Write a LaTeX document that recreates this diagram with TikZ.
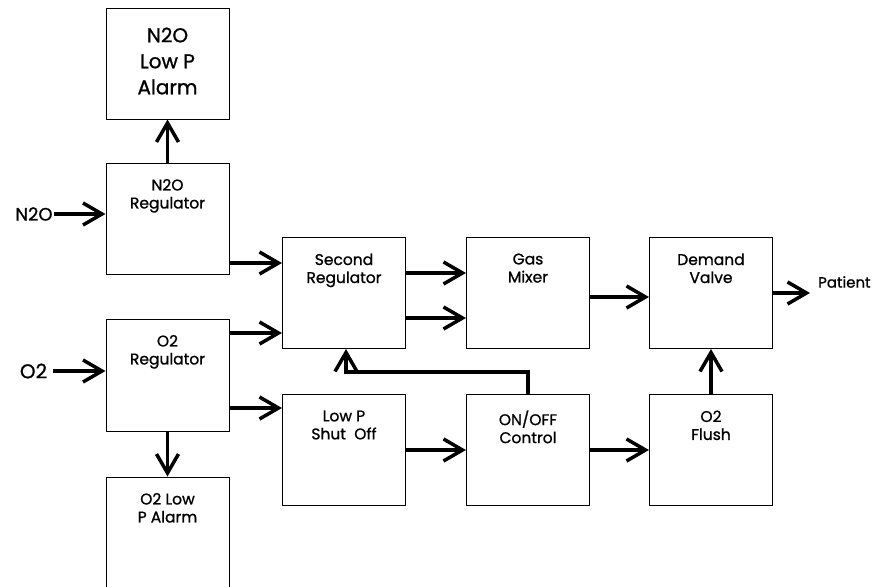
\documentclass[tikz,border=0pt]{standalone}
\usepackage{fontspec}
\setmainfont{Poppins}[FakeBold=1]
\usepackage{tikz}
\usetikzlibrary{positioning}
\usetikzlibrary{arrows.meta}

\begin{document}
\begin{tikzpicture}[
		% Style definitions - one unit is one point, y runs downwards
		x=1pt, y=-1pt,
		block/.style={draw, line width=1pt, minimum width=123pt, minimum height=111pt, inner sep=0pt},
		title/.style={anchor=north, yshift=-13pt, align=center, font=\fontsize{15.5}{18}\selectfont},
		bigtitle/.style={align=center, font=\fontsize{20}{26}\selectfont},
		arrow/.style={-{Straight Barb[length=19pt, width=22pt]}, line width=3.5pt},
		% Uniform node distance for the grid
		node distance=45pt and 60pt,
		]
		\useasboundingbox (0,0) rectangle (883,586);

		% === COLUMN 1: Cylinder regulators and alarms ===
		\node[block, label={[title]north:N2O\\Regulator}] (n2oreg) at (167.5,218.5) {};
		\node[block, minimum height=110pt, above=43pt of n2oreg] (n2oalarm) {};
		\node[bigtitle, yshift=3pt] (n2oalarmtxt) at (n2oalarm) {N2O\\Low P\\Alarm};
		\node[block, minimum height=112pt, label={[title]north:O2\\Regulator}] (o2reg) at (167.5,375) {};
		\node[block, minimum height=122pt, below=45pt of o2reg.south, anchor=north, label={[title]north:O2 Low\\P Alarm}] (o2alarm) {};

		% === Inputs ===
		\node[font=\fontsize{18}{20}\selectfont, inner sep=1pt] (n2oin) at (34,214) {N2O};
		\node[font=\fontsize{20}{22}\selectfont, inner sep=6pt] (o2in) at (33.5,371) {O2};

		% === ROW 1: Second regulator, mixer, demand valve ===
		\node[block, label={[title]north:Second\\Regulator}] (secondreg) at (344,293) {};
		\node[block, right=60pt of secondreg, label={[title]north:Gas\\Mixer}] (mixer) {};
		\node[block, right=59pt of mixer, label={[title]north:Demand\\Valve}] (demand) {};
		\node[font=\fontsize{15}{17}\selectfont, anchor=west, inner sep=0pt] (patient) at (818,282) {Patient};

		% === ROW 2: Shut off, control, flush ===
		\node[block, below=45pt of secondreg, label={[title]north:Low P\\Shut\ \ Off}] (shutoff) {};
		\node[block, right=60pt of shutoff, label={[title]north:ON/OFF\\Control}] (onoff) {};
		\node[block, right=59pt of onoff, label={[title]north:O2\\Flush}] (flush) {};

		% === Connections: gas supply ===
		\draw[arrow] (n2oin.east) -- (n2oin.east -| n2oreg.west);
		\draw[arrow] (o2in.east) -- (o2in.east -| o2reg.west);
		\draw[arrow] (n2oreg) -- (n2oalarm);
		\draw[arrow] (o2reg) -- (o2alarm);

		% === Connections: horizontal gas flow ===
		\draw[arrow] ([yshift=-44.5pt]n2oreg.east) -- ([yshift=-44.5pt]n2oreg.east -| secondreg.west);
		\draw[arrow] ([yshift=42pt]o2reg.east) -- ([yshift=42pt]o2reg.east -| secondreg.west);
		\draw[arrow] ([yshift=-33pt]o2reg.east) -- ([yshift=-33pt]o2reg.east -| shutoff.west);
		\draw[arrow] ([yshift=20pt]secondreg.east) -- ([yshift=20pt]secondreg.east -| mixer.west);
		\draw[arrow] ([yshift=-25pt]secondreg.east) -- ([yshift=-25pt]secondreg.east -| mixer.west);
		\draw[arrow] ([yshift=-4pt]mixer.east) -- ([yshift=-4pt]mixer.east -| demand.west);
		\draw[arrow] (demand.east) -- ([xshift=-8pt]demand.east -| patient.west);
		\draw[arrow] (shutoff.east) -- (onoff.west);
		\draw[arrow] (onoff.east) -- (flush.west);
		\draw[arrow] (flush) -- (demand);

		% === Connections: control feedback ===
		\draw[arrow] (onoff.north) -- ++(0,-22) -| ([xshift=2pt]secondreg.south);

	\end{tikzpicture}
\end{document}
